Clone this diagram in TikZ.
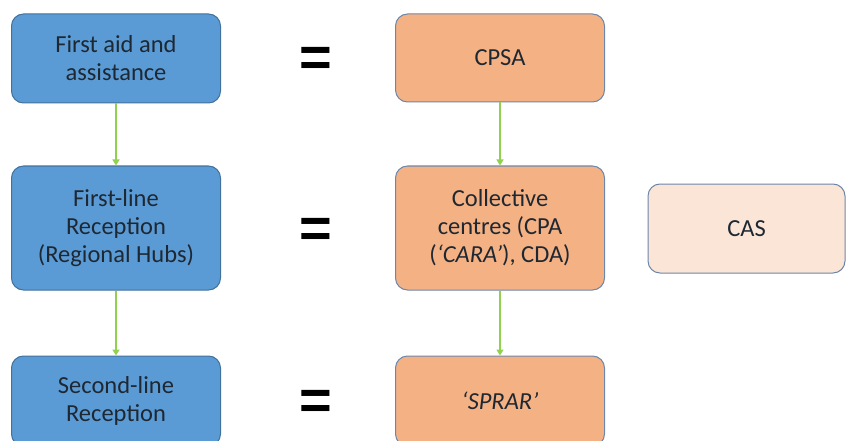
\documentclass[tikz,border=0pt]{standalone}
\usepackage{fontspec}
\setmainfont{Carlito}
\newfontfamily\eqfont{Liberation Sans}
\usetikzlibrary{arrows.meta}
\definecolor{bluefill}{HTML}{5B9BD5}
\definecolor{blueline}{HTML}{41719C}
\definecolor{orangefill}{HTML}{F4B183}
\definecolor{orangeline}{HTML}{6D87AB}
\definecolor{peachfill}{HTML}{FBE5D6}
\definecolor{arrowgreen}{HTML}{92D050}
\definecolor{txt}{HTML}{1E2833}
\tikzset{
  box/.style={rounded corners=12pt, line width=1pt, minimum width=209pt,
    align=center, text=txt, font=\fontsize{24.5}{28}\selectfont, inner sep=0pt},
  bluebox/.style={box, draw=blueline, fill=bluefill},
  orangebox/.style={box, draw=orangeline, fill=orangefill},
  peachbox/.style={box, draw=orangeline, fill=peachfill, minimum width=197pt},
  flow/.style={draw=arrowgreen, line width=2pt, -{Triangle[length=6pt,width=7pt]}},
  eqsign/.style={font=\eqfont\bfseries\fontsize{56}{56}\selectfont, text=black, inner sep=0pt}
}
\begin{document}
\begin{tikzpicture}[x=1pt,y=-1pt]
\useasboundingbox (0,0) rectangle (846,441);
\begin{scope}
\clip (0,0) rectangle (846,441);
\node[bluebox, minimum height=89pt] (b1) at (116,58.5) {First aid and\\assistance};
\node[bluebox, minimum height=124pt] (b2) at (116,228) {First-line\\Reception\\(Regional Hubs)};
\node[bluebox, minimum height=90pt] (b3) at (116,401) {Second-line\\Reception};
\node[orangebox, minimum height=88pt] (o1) at (500,58) {CPSA};
\node[orangebox, minimum height=124pt] (o2) at (500,228) {Collective\\centres (CPA\\(\textit{‘CARA’}), CDA)};
\node[orangebox, minimum height=90pt] (o3) at (500,401) {\textit{‘SPRAR’}};
\node[peachbox, minimum height=89pt] (cas) at (746.5,228.5) {CAS};
\node[eqsign] (e1) at (316,62) {=};
\node[eqsign] (e2) at (316,233) {=};
\node[eqsign] (e3) at (316,405) {=};
\draw[flow] (b1.south) -- (b2.north);
\draw[flow] (b2.south) -- (b3.north);
\draw[flow] (o1.south) -- (o2.north);
\draw[flow] (o2.south) -- (o3.north);
\end{scope}
\end{tikzpicture}
\end{document}
